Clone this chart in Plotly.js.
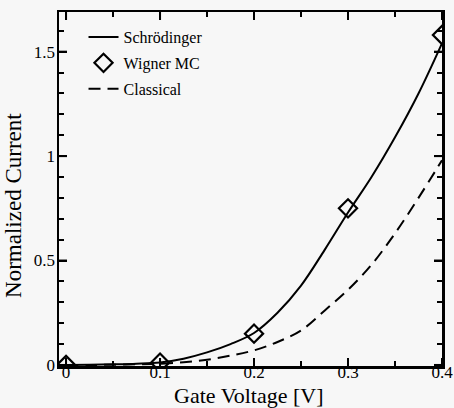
<!DOCTYPE html>
<html>
<head>
<meta charset="utf-8">
<script src="https://cdn.plot.ly/plotly-3.0.1.min.js"></script>
<style>html,body{margin:0;padding:0;background:#f7f7f7;}#chart{width:454px;height:408px;}</style>
</head>
<body>
<div id="chart"></div>
<script>
// Gate voltage samples for the curves [V]
const curveVoltage = [0, 0.025, 0.05, 0.075, 0.1, 0.125, 0.15, 0.175, 0.2, 0.225, 0.25, 0.275, 0.3, 0.325, 0.35, 0.375, 0.4];
// Schrödinger (solid) normalized current
const schrodinger = [0, 0.001, 0.003, 0.006, 0.012, 0.03, 0.06, 0.10, 0.153, 0.25, 0.38, 0.55, 0.73, 0.90, 1.09, 1.30, 1.54];
// Classical (dashed) normalized current
const classical = [0, 0, 0.001, 0.003, 0.006, 0.013, 0.025, 0.045, 0.07, 0.11, 0.165, 0.26, 0.36, 0.48, 0.63, 0.80, 0.98];
// Wigner Monte Carlo points
const wignerVoltage = [0, 0.1, 0.2, 0.3, 0.4];
const wignerCurrent = [0, 0.011, 0.15, 0.75, 1.58];
// Tick labels
const xTicks = [0, 0.1, 0.2, 0.3, 0.4];
const xTickText = ['0', '0.1', '0.2', '0.3', '0.4'];
const yTicks = [0, 0.5, 1, 1.5];
const yTickText = ['0', '0.5', '1', '1.5'];
const xTitle = 'Gate Voltage [V]';
const yTitle = 'Normalized Current';

// minor ticks subdivide the major tick spacing
function subdivide(ticks, n, extraEnd) {
  const out = [];
  const step = (ticks[1] - ticks[0]) / n;
  const last = ticks[ticks.length - 1] + (extraEnd || 0);
  for (let v = ticks[0] + step; v < last - 1e-9; v += step) {
    const isMajor = ticks.some(t => Math.abs(t - v) < 1e-9);
    if (!isMajor) out.push(+v.toFixed(4));
  }
  return out;
}
const xMinor = subdivide(xTicks, 2, 0);
const yMinor = subdivide(yTicks, 5, 0.2);

const serif = "'Liberation Serif', 'Times New Roman', serif";
const xRange = [-0.0075, 0.4];
const yRange = [-0.005, 1.69];

const traces = [
  {x: curveVoltage, y: schrodinger, mode: 'lines', name: 'Schrödinger', legendgroup: 'a',
   line: {color: '#000', width: 2, shape: 'spline'}},
  {x: wignerVoltage, y: wignerCurrent, mode: 'markers', name: 'Wigner MC', legendgroup: 'b',
   marker: {symbol: 'diamond-open', size: 14, color: '#000', line: {width: 2.2, color: '#000'}}},
  {x: curveVoltage, y: classical, mode: 'lines', name: 'Classical', legendgroup: 'c',
   line: {color: '#000', width: 2, dash: '12px,7px', shape: 'spline'}}
];

const axisCommon = {
  showgrid: false, zeroline: false, showline: true, linecolor: '#000', linewidth: 2.5,
  mirror: 'ticks', ticks: 'inside', ticklen: 8, tickwidth: 2, tickcolor: '#000',
  tickfont: {family: serif, size: 17, color: '#000'}
};

// major tick marks on all four sides (pixel-length segments at the tick values)
const tickShapes = [];
const tickLine = {color: '#000', width: 2};
xTicks.forEach(function (v) {
  tickShapes.push({type: 'line', xref: 'x', yref: 'paper', ysizemode: 'pixel', yanchor: 0, x0: v, x1: v, y0: 0, y1: 8, line: tickLine, layer: 'above'});
  tickShapes.push({type: 'line', xref: 'x', yref: 'paper', ysizemode: 'pixel', yanchor: 1, x0: v, x1: v, y0: 0, y1: -8, line: tickLine, layer: 'above'});
});
yTicks.forEach(function (v) {
  tickShapes.push({type: 'line', yref: 'y', xref: 'paper', xsizemode: 'pixel', xanchor: 0, y0: v, y1: v, x0: 0, x1: 8, line: tickLine, layer: 'above'});
  tickShapes.push({type: 'line', yref: 'y', xref: 'paper', xsizemode: 'pixel', xanchor: 1, y0: v, y1: v, x0: 0, x1: -8, line: tickLine, layer: 'above'});
});

const layout = {
  width: 454, height: 408,
  margin: {l: 59, r: 12, t: 12, b: 42},
  paper_bgcolor: '#f7f7f7', plot_bgcolor: '#f7f7f7',
  font: {family: serif, color: '#000'},
  showlegend: true,
  legend: {x: 0.064, y: 0.977, xanchor: 'left', yanchor: 'top', bgcolor: 'rgba(0,0,0,0)',
    font: {family: serif, size: 16, color: '#000'}, traceorder: 'grouped', tracegroupgap: 2, itemwidth: 30},
  xaxis: Object.assign({}, axisCommon, {
    range: xRange, tickmode: 'array', tickvals: xTicks, ticktext: xTickText,
    ticklabelstandoff: -11,
    minor: {tickvals: xMinor, ticks: 'inside', ticklen: 5, tickwidth: 2, tickcolor: '#000'}
  }),
  yaxis: Object.assign({}, axisCommon, {
    range: yRange, tickmode: 'array', tickvals: yTicks, ticktext: yTickText,
    ticklabelstandoff: -2,
    minor: {tickvals: yMinor, ticks: 'inside', ticklen: 5, tickwidth: 2, tickcolor: '#000'}
  }),
  shapes: tickShapes,
  annotations: [{
    text: yTitle, textangle: -90, xref: 'paper', yref: 'paper', x: -0.1175, y: 0.455,
    xanchor: 'center', yanchor: 'middle', showarrow: false,
    font: {family: serif, size: 23, color: '#000'}
  }, {
    text: xTitle, xref: 'paper', yref: 'paper', x: 0.495, y: 0, yshift: -15,
    xanchor: 'center', yanchor: 'top', showarrow: false,
    font: {family: serif, size: 22, color: '#000'}
  }]
};

Plotly.newPlot('chart', traces, layout, {displayModeBar: false, staticPlot: true});
</script>
</body>
</html>
